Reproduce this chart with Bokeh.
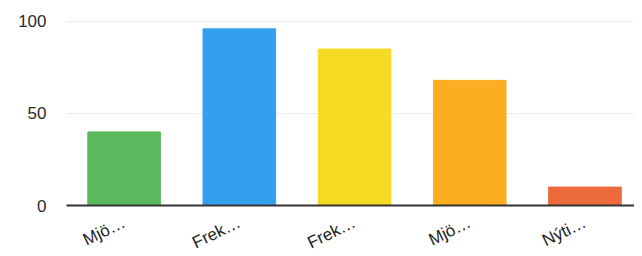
import math
from bokeh.plotting import figure
from bokeh.models import ColumnDataSource, FixedTicker, Range1d
from bokeh.embed import file_html
from bokeh.resources import INLINE

labels = ["Mjö…", "Frek…", "Frek…", "Mjö…", "Nýti…"]
values = [40, 96, 85, 68, 10]
colors = ["#5bb95d", "#33a0ef", "#f5db23", "#fdad22", "#ec6a3c"]
positions = list(range(len(labels)))

src = ColumnDataSource(dict(x=positions, top=values, color=colors))

p = figure(frame_width=568, frame_height=191, output_backend="svg", toolbar_location=None,
           x_range=Range1d(-0.5, 4.43), y_range=Range1d(0, 103.8),
           min_border_left=66, min_border_right=0, min_border_top=14, min_border_bottom=0)
p.vbar(x="x", top="top", width=0.63, color="color", source=src)

p.outline_line_color = None
p.xgrid.grid_line_color = None
p.ygrid.grid_line_color = "#ececec"
p.ygrid.grid_line_width = 1

p.yaxis.ticker = FixedTicker(ticks=[0, 50, 100])
p.yaxis.axis_line_color = None
p.yaxis.major_tick_line_color = None
p.yaxis.minor_tick_line_color = None
p.yaxis.major_tick_out = 0
p.yaxis.major_label_text_font = "Liberation Sans"
p.yaxis.major_label_text_font_size = "17px"
p.yaxis.major_label_text_color = "#2a2a2a"
p.yaxis.major_label_standoff = 20

p.xaxis.ticker = FixedTicker(ticks=positions)
p.xaxis.major_label_overrides = {i: l for i, l in zip(positions, labels)}
p.xaxis.axis_line_color = "#333333"
p.xaxis.axis_line_width = 2
p.xaxis.major_tick_line_color = None
p.xaxis.minor_tick_line_color = None
p.xaxis.major_tick_out = 0
p.xaxis.major_label_orientation = 0.45
p.xaxis.major_label_text_font = "Liberation Sans"
p.xaxis.major_label_text_font_size = "17px"
p.xaxis.major_label_text_color = "#222222"
p.xaxis.major_label_standoff = 16

open("out.html", "w").write(file_html(p, INLINE))
